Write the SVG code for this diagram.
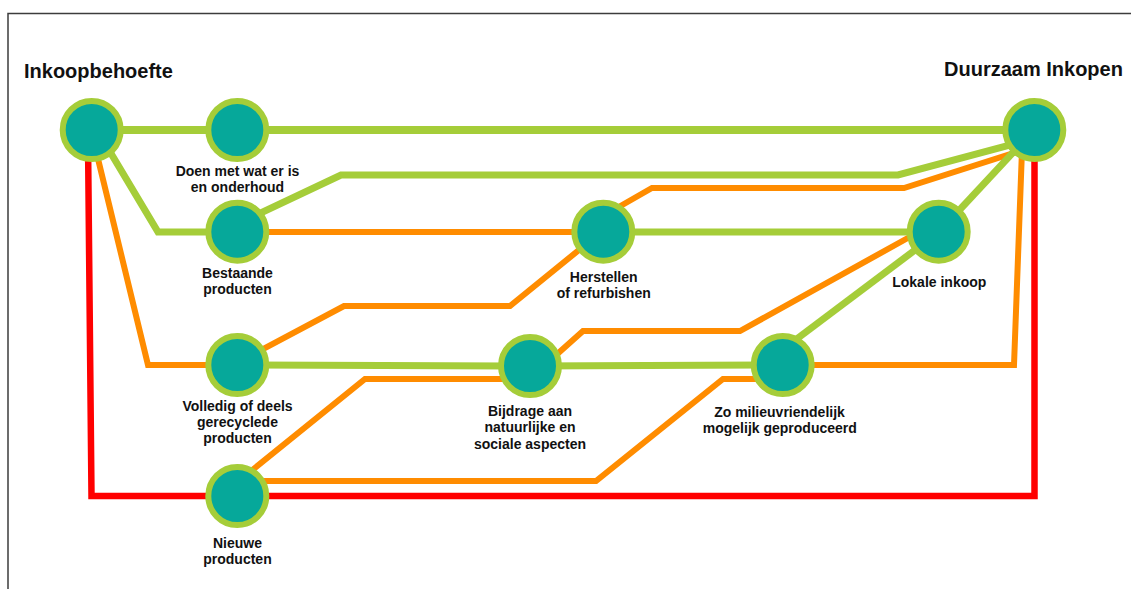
<svg xmlns="http://www.w3.org/2000/svg" width="1131" height="589" viewBox="0 0 1131 589">
<style>
.frame{fill:none;stroke:#3c3c3c;stroke-width:1.5}
.g{fill:none;stroke:#a5cd39;stroke-width:7;stroke-linejoin:miter}
.o{fill:none;stroke:#ff8c00;stroke-width:6;stroke-linejoin:miter}
.r{fill:none;stroke:#ff0000;stroke-width:6.5;stroke-linejoin:miter}
.n{fill:#06a89a;stroke:#a5cd39;stroke-width:6}
.t{font-family:"Liberation Sans",Arial,sans-serif;font-weight:bold;font-size:14px;fill:#111;text-anchor:middle}
.h{font-family:"Liberation Sans",Arial,sans-serif;font-weight:bold;font-size:20px;fill:#111}
</style>
<rect width="1131" height="589" fill="#fff"/>
<path class="frame" d="M8,589 V13.5 H1131"/>
<g id="connectors">
<path class="r" d="M88,140 L91.5,496 H1034.5 V140"/>
<path class="o" d="M91,130 L148,365 H237"/>
<path class="o" d="M237,232 H603"/>
<path class="o" d="M610,212 L652,188 H904 L1020,151"/>
<path class="o" d="M237,363 L344,306 H510 L590,241"/>
<path class="o" d="M550,360.6 L583,331 H740 L915,234"/>
<path class="o" d="M245,476 L365,379 H510"/>
<path class="o" d="M240,481 H596 L723,379 H775"/>
<path class="o" d="M783,365 H1014 L1022,150"/>
<path class="g" style="stroke-width:8" d="M92,130 H1034"/>
<path class="g" d="M97,130 L158,232 H237"/>
<path class="g" d="M245,220.5 L341,175 H898 L1025,141"/>
<path class="g" d="M603,232 H939"/>
<path class="g" d="M939,232 L1034,130"/>
<path class="g" d="M237,365 L530,366 L783,365"/>
<path class="g" d="M790,344 L939,232"/>
</g>
<g id="inkoopbehoefte">
<circle class="n" cx="91.7" cy="130" r="29"/>
<text class="h" x="24" y="78">Inkoopbehoefte</text>
</g>
<g id="duurzaam-inkopen">
<circle class="n" cx="1034.3" cy="130" r="29"/>
<text class="h" x="944" y="76">Duurzaam Inkopen</text>
</g>
<g id="doen-met-wat-er-is">
<circle class="n" cx="237.3" cy="130" r="29"/>
<text class="t" x="237.5" y="175.5">Doen met wat er is</text>
<text class="t" x="237.5" y="191.5">en onderhoud</text>
</g>
<g id="bestaande-producten">
<circle class="n" cx="237.3" cy="231.7" r="29"/>
<text class="t" x="237.5" y="278">Bestaande</text>
<text class="t" x="237.5" y="294">producten</text>
</g>
<g id="herstellen">
<circle class="n" cx="603.3" cy="231.7" r="29"/>
<text class="t" x="603.7" y="281.5">Herstellen</text>
<text class="t" x="603.7" y="298">of refurbishen</text>
</g>
<g id="lokale-inkoop">
<circle class="n" cx="938.7" cy="231.7" r="29"/>
<text class="t" x="939.3" y="286.7">Lokale inkoop</text>
</g>
<g id="volledig-gerecycled">
<circle class="n" cx="237.3" cy="365" r="29"/>
<text class="t" x="237.5" y="410.7">Volledig of deels</text>
<text class="t" x="237.5" y="427">gerecyclede</text>
<text class="t" x="237.5" y="443.3">producten</text>
</g>
<g id="bijdrage">
<circle class="n" cx="530" cy="366" r="29"/>
<text class="t" x="530" y="415.5">Bijdrage aan</text>
<text class="t" x="530" y="432">natuurlijke en</text>
<text class="t" x="530" y="448.5">sociale aspecten</text>
</g>
<g id="zo-milieuvriendelijk">
<circle class="n" cx="782.7" cy="365" r="29"/>
<text class="t" x="779.5" y="416.7">Zo milieuvriendelijk</text>
<text class="t" x="779.8" y="433.3">mogelijk geproduceerd</text>
</g>
<g id="nieuwe-producten">
<circle class="n" cx="237.3" cy="496" r="29"/>
<text class="t" x="237.5" y="548">Nieuwe</text>
<text class="t" x="237.5" y="564">producten</text>
</g>
</svg>
